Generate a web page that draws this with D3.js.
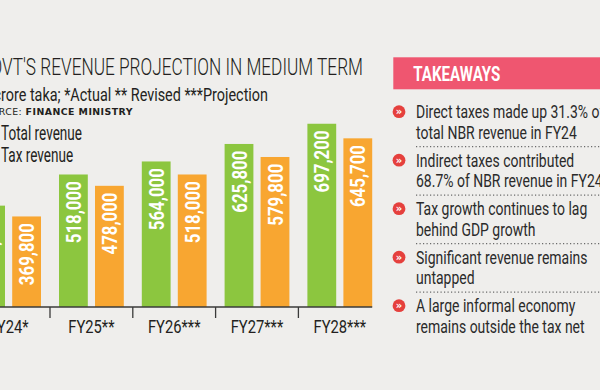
<!DOCTYPE html>
<html><head><meta charset="utf-8">
<script src="https://cdn.jsdelivr.net/npm/d3@7"></script>
<style>html,body{margin:0;padding:0;background:#efeeec;overflow:hidden}</style>
</head><body><svg id="c" width="600" height="390"></svg>
<script>
// ---- data ----
const categories = ["FY24*", "FY25**", "FY26***", "FY27***", "FY28***"];
const seriesNames = ["Total revenue", "Tax revenue"];
const totalRevenue = [408000, 518000, 564000, 625800, 697200];
const taxRevenue = [369800, 478000, 518000, 579800, 645700];
const titleText = "GOVT'S REVENUE PROJECTION IN MEDIUM TERM";
const subtitleText = "In crore taka; *Actual ** Revised ***Projection";
const sourceLabel = "SOURCE: ";
const sourceName = "FINANCE MINISTRY";
const takeawayTitle = "TAKEAWAYS";
const takeaways = [
  ["Direct taxes made up 31.3% of", "total NBR revenue in FY24"],
  ["Indirect taxes contributed", "68.7% of NBR revenue in FY24"],
  ["Tax growth continues to lag", "behind GDP growth"],
  ["Significant revenue remains", "untapped"],
  ["A large informal economy", "remains outside the tax net"]
];

// ---- setup ----
const svg = d3.select("#c");
const FONT = "Roboto,'Liberation Sans Narrow','DejaVu Sans Condensed',sans-serif";
const LIGHT = 400;
const colors = {total: "#8cc63f", tax: "#f8a631", ink: "#231f20"};
svg.append("rect").attr("width", 600).attr("height", 390).attr("fill", "#efeeec");
const meas = svg.append("text").attr("x", -2000).attr("y", -2000).attr("font-family", FONT);
function measure(str, size, weight) {
  meas.attr("font-size", size).attr("font-weight", weight || 400).text(str);
  return meas.node().getComputedTextLength();
}
// draw text horizontally compressed by factor
function txt(g, str, x, y, size, weight, factor, anchor, fill) {
  const len = measure(str, size, weight) * factor;
  let sx = x;
  if (anchor === "end") sx = x - len; else if (anchor === "middle") sx = x - len / 2;
  return g.append("text").attr("x", sx).attr("y", y)
    .attr("font-family", FONT).attr("font-size", size).attr("font-weight", weight || 400)
    .attr("fill", fill || colors.ink)
    .attr("textLength", len).attr("lengthAdjust", "spacingAndGlyphs").text(str);
}

// ---- header texts ----
const hdr = svg.append("g");
{
  const size = 24;
  const vis = titleText.slice(titleText.indexOf("VT'S"));
  const f = 361 / measure(vis, size, 300);
  txt(hdr, titleText, 363, 75, size, 300, f, "end");
}
{
  const size = 19.2;
  const vis = subtitleText.slice(subtitleText.indexOf("rore"));
  const f = 267 / measure(vis, size, LIGHT);
  txt(hdr, subtitleText, 268, 100.5, size, LIGHT, f, "end");
}
hdr.append("text").attr("x", 133).attr("y", 115).attr("text-anchor", "end")
  .attr("font-family", "'DejaVu Sans',Verdana,sans-serif").attr("font-size", 9.4)
  .attr("letter-spacing", 0.45).attr("fill", colors.ink)
  .call(t => {
    t.append("tspan").text(sourceLabel);
    t.append("tspan").attr("font-weight", 700).text(sourceName);
  });
// legend (swatches are off-canvas to the left)
{
  const size = 19.5;
  const f = 81 / measure(seriesNames[0], size, LIGHT);
  txt(hdr, seriesNames[0], 1, 140, size, LIGHT, f, "start");
  txt(hdr, seriesNames[1], 1, 161.7, size, LIGHT, f, "start");
  hdr.append("rect").attr("x", -22).attr("y", 126).attr("width", 16).attr("height", 14).attr("fill", colors.total);
  hdr.append("rect").attr("x", -22).attr("y", 148).attr("width", 16).attr("height", 14).attr("fill", colors.tax);
}

// ---- chart ----
const x0 = d3.scaleBand().domain(categories).range([-32.8, 381.2]);
const x1 = d3.scaleBand().domain(seriesNames).range([0, x0.bandwidth()]).paddingInner(0.2).paddingOuter(0.25);
const y = d3.scaleLinear().domain([50000, 750000]).range([307, 108.8]);
const rows = categories.map((c, i) => ({cat: c, vals: [
  {s: seriesNames[0], v: totalRevenue[i], col: colors.total},
  {s: seriesNames[1], v: taxRevenue[i], col: colors.tax}]}));

const chart = svg.append("g");
const grp = chart.selectAll("g.cat").data(rows).join("g").attr("class", "cat")
  .attr("transform", d => `translate(${x0(d.cat)},0)`);
grp.selectAll("rect").data(d => d.vals).join("rect")
  .attr("x", d => x1(d.s)).attr("width", x1.bandwidth())
  .attr("y", d => y(d.v)).attr("height", d => y.range()[0] - y(d.v))
  .attr("fill", d => d.col);

const fmt = d3.format(",");
const labSize = 21;
const labF = 62 / measure("518,000", labSize, 700);
grp.each(function(d) {
  const g = d3.select(this);
  d.vals.forEach(v => {
    const cx = x1(v.s) + x1.bandwidth() / 2;
    const lg = g.append("g").attr("transform", `translate(${cx},${y(v.v) + 6.7}) rotate(-90)`);
    txt(lg, fmt(v.v), 0, 0, labSize, 700, labF, "end", "#fff").attr("dy", "0.36em");
  });
});

// axis
const axisY = y.range()[0];
const lastCat = categories[categories.length - 1];
const axisEnd = x0(lastCat) + x1(seriesNames[1]) + x1.bandwidth();
chart.append("line").attr("x1", x0(categories[0])).attr("x2", axisEnd)
  .attr("y1", axisY).attr("y2", axisY).attr("stroke", "#3a3a3a").attr("stroke-width", 1.5);
chart.selectAll("line.tick").data(categories.slice(1)).join("line").attr("class", "tick")
  .attr("x1", d => x0(d)).attr("x2", d => x0(d))
  .attr("y1", axisY).attr("y2", axisY + 11).attr("stroke", "#3a3a3a").attr("stroke-width", 1.3);
{
  const size = 18.5;
  const f = 52.6 / measure("FY27***", size, LIGHT);
  categories.forEach(c => txt(chart, c, x0(c) + x0.bandwidth() / 2, 333.3, size, LIGHT, f, "middle"));
}

// ---- takeaways panel ----
const tk = svg.append("g");
tk.append("rect").attr("x", 393.3).attr("y", 57.3).attr("width", 220).attr("height", 32).attr("fill", "#ef5670");
{
  const size = 20.5;
  const f = 87 / measure(takeawayTitle, size, 700);
  txt(tk, takeawayTitle, 413.3, 80.7, size, 700, f, "start", "#fff");
}
{
  const size = 18.6;
  const f = 171.3 / measure("Tax growth continues to lag", size, LIGHT);
  takeaways.forEach((lines, i) => {
    const b1 = 118.3 + 48.5 * i;
    tk.append("circle").attr("cx", 399).attr("cy", b1 - 6.6).attr("r", 6.4).attr("fill", "#e5403d");
    tk.append("text").attr("x", 399).attr("y", b1 - 6.6).attr("dy", "0.36em").attr("text-anchor", "middle")
      .attr("font-family", "'DejaVu Sans',sans-serif").attr("font-weight", 700).attr("font-size", 10)
      .attr("fill", "#fff").text("»");
    lines.forEach((l, j) => txt(tk, l, 416, b1 + 20.5 * j, size, LIGHT, f, "start", "#2a2a2a"));
    if (i < takeaways.length - 1) {
      const dy = b1 + 20.5 + 7.8;
      tk.append("line").attr("x1", 416).attr("x2", 600).attr("y1", dy).attr("y2", dy)
        .attr("stroke", "#6a6a6a").attr("stroke-width", 1.2).attr("stroke-dasharray", "1.2,2.3");
    }
  });
}
meas.remove();
</script>
</body></html>
